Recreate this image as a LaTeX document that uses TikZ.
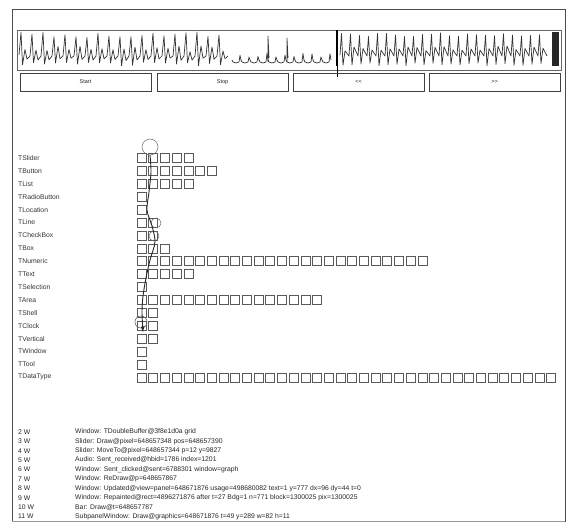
\documentclass[tikz,border=0pt]{standalone}
\usepackage{fontspec}
\setmainfont{Liberation Sans}
\usepackage{tikz}
\usetikzlibrary{arrows}
\usetikzlibrary{positioning}

\tikzset{
    cell/.style = {draw = black!65, line width = 0.6pt},
    rowlabel/.style = {anchor = west, inner sep = 0pt, text = black!80,
        font = \fontsize{6.8}{7}\selectfont},
    button/.style = {draw = black!75, line width = 0.7pt},
    logtext/.style = {anchor = west, inner sep = 0pt, text = black!85,
        font = \fontsize{6.8}{7}\selectfont},
    wave/.style = {black!80, line width = 0.7pt, line join = round}
}

\begin{document}
\begin{tikzpicture}[x = 1pt, y = -1pt]
        \useasboundingbox (0, 0) rectangle (568, 525);

        % window frame
        \draw[black!70, line width = 0.8pt] (12, 522) -- (12, 9) -- (565, 9) -- (565, 522);
        \draw[black!40, line width = 0.5pt] (12, 521) -- (565, 521);

        % signal strip
        \draw[black!60, line width = 0.6pt] (17, 30) rectangle (561, 70);
        \pgfmathsetseed{11}
        \draw[wave] (19, 55) \foreach \x in {19, 30, ..., 222} {
            -- (\x + 2, {38 - 6*rnd}) -- (\x + 3.5, {62 + 4*rnd})
            -- (\x + 6, {46 + 6*rnd}) -- (\x + 8, {58 + 3*rnd}) -- (\x + 11, 56)};
        \draw[wave] (232, 60) \foreach \x in {232, 241, ..., 325} {
            -- (\x + 1, 62) -- (\x + 4, 63) -- (\x + 7, 62) -- (\x + 8, {53 + 5*rnd}) -- (\x + 9, 60)};
        \draw[wave] (268, 62) -- (268, 36) -- (269, 58);
        \draw[wave] (287, 62) -- (287, 38) -- (288, 58);
        \draw[wave] (340, 55) \foreach \x in {340, 349, ..., 545} {
            -- (\x + 1.5, {37 - 5*rnd}) -- (\x + 3, {63 + 3*rnd})
            -- (\x + 5, {46 + 5*rnd}) -- (\x + 9, 56)};
        \draw[black, line width = 2.4pt] (337, 30) -- (337, 66);
        \draw[black, line width = 0.8pt] (337, 66) -- (337, 77);
        \fill[black!85] (552, 32) rectangle (559, 66);

        % buttons
        \foreach \bx/\btext [count = \i] in {20/Start, 157/Stop, 293/{{<}{<}}, 429/{{>}{>}}} {
            \draw[button] (\bx, 73) rectangle (\bx + 131, 91);
            \node[logtext, anchor = center, font = \fontsize{5.5}{6}\selectfont] (btn\i)
                at (\bx + 65.5, 82) {\btext};
        }

        % widget rows
        \foreach \name/\n [count = \r] in {TSlider/5, TButton/7, TList/5, TRadioButton/1,
                TLocation/1, TLine/2, TCheckBox/2, TBox/3, TNumeric/25, TText/5,
                TSelection/1, TArea/16, TShell/2, TClock/2, TVertical/2, TWindow/1,
                TTool/1, TDataType/36} {
            \pgfmathsetmacro{\yy}{158 + (\r - 1)*12.9}
            \node[rowlabel] (lab\r) at (18, \yy) {\name};
            \foreach \c in {1, ..., \n} {
                \draw[cell] ({137 + (\c - 1)*11.7}, \yy - 4.5) rectangle ++(9, 9);
            }
        }

        % pen track
        \draw[black!60, line width = 0.5pt] (150, 147) circle (8);
        \draw[black!60, line width = 0.5pt] (156, 223) circle (5);
        \draw[black!60, line width = 0.5pt] (154, 236) circle (5);
        \draw[black!60, line width = 0.6pt] (141, 322) circle (6);
        \draw[black!85, line width = 0.9pt, -latex] plot[smooth] coordinates {
            (150, 155) (151, 172) (149, 192) (147, 210) (152, 226) (155, 242)
            (150, 260) (146, 278) (143, 296) (142, 312) (143, 332)};

        % event log
        \foreach \num/\msg [count = \k] in {
                2 W/{Window: TDoubleBuffer@3f8e1d0a grid},
                3 W/{Slider: Draw@pixel=648657348 pos=648657390},
                4 W/{Slider: MoveTo@pixel=648657344 p=12 y=9827},
                5 W/{Audio: Sent\_received@hbid=1786 index=1201},
                6 W/{Window: Sent\_clicked@sent=6788301 window=graph},
                7 W/{Window: ReDraw@p=648657867},
                8 W/{Window: Updated@view=panel=648671876 usage=498680082 text=1 y=777 dx=96 dy=44 t=0},
                9 W/{Window: Repainted@rect=4896271876 after t=27 Bdg=1 n=771 block=1300025 pix=1300025},
                10 W/{Bar: Draw@t=648657787},
                11 W/{SubpanelWindow: Draw@graphics=648671876 t=49 y=289 w=82 h=11}} {
            \node[logtext] (num\k) at (18, {432 + (\k - 1)*9.4}) {\num};
            \node[logtext] (msg\k) at (75, {432 + (\k - 1)*9.4}) {\msg};
        }
    \end{tikzpicture}
\end{document}
